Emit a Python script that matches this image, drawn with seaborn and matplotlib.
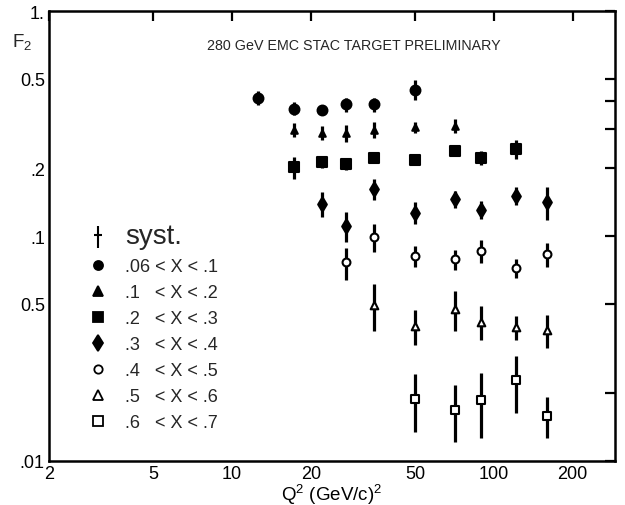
import matplotlib
matplotlib.use("Agg")
import matplotlib.pyplot as plt
import seaborn as sns
import pandas as pd
from matplotlib.path import Path
from matplotlib.lines import Line2D
from matplotlib.ticker import FixedLocator, NullFormatter

sns.set_theme(style="white")
plt.rcParams['font.family'] = ['Liberation Sans', 'DejaVu Sans']
plt.rcParams['mathtext.fontset'] = 'custom'
plt.rcParams['mathtext.rm'] = 'Liberation Sans'
plt.rcParams['mathtext.it'] = 'Liberation Sans'

# ---- data ----
labels = [".06 < X < .1", ".1   < X < .2", ".2   < X < .3", ".3   < X < .4",
          ".4   < X < .5", ".5   < X < .6", ".6   < X < .7"]

q2_s1 = [12.6, 17.3, 22.1, 27.3, 34.7, 49.8]
f2_s1 = [0.411, 0.369, 0.364, 0.385, 0.385, 0.447]
er_s1 = [0.030, 0.025, 0.015, 0.028, 0.028, 0.045]

q2_s2 = [17.3, 22.1, 27.3, 34.7, 49.8, 70.8]
f2_s2 = [0.297, 0.287, 0.287, 0.297, 0.304, 0.309]
er_s2 = [0.021, 0.020, 0.024, 0.025, 0.018, 0.023]

q2_s3 = [17.3, 22.1, 27.3, 34.7, 49.8, 70.8, 89.0, 121.0]
f2_s3 = [0.202, 0.213, 0.209, 0.222, 0.218, 0.238, 0.223, 0.243]
er_s3 = [0.023, 0.013, 0.013, 0.009, 0.009, 0.012, 0.017, 0.023]

q2_s4 = [22.1, 27.3, 34.7, 49.8, 70.8, 89.0, 121.0, 159.0]
f2_s4 = [0.139, 0.111, 0.162, 0.127, 0.146, 0.131, 0.151, 0.142]
er_s4 = [0.018, 0.0165, 0.0174, 0.014, 0.0134, 0.012, 0.014, 0.024]

q2_s5 = [27.3, 34.7, 49.8, 70.8, 89.0, 121.0, 159.0]
f2_s5 = [0.0764, 0.0987, 0.0812, 0.079, 0.0861, 0.0719, 0.0832]
er_s5 = [0.0125, 0.014, 0.0087, 0.008, 0.0103, 0.0071, 0.010]

q2_s6 = [34.7, 49.8, 70.8, 89.0, 121.0, 159.0]
f2_s6 = [0.0494, 0.0399, 0.0474, 0.0416, 0.0393, 0.0382]
er_s6 = [0.0117, 0.0071, 0.0097, 0.0072, 0.0048, 0.0063]

q2_s7 = [49.8, 70.8, 89.0, 121.0, 159.0]
f2_s7 = [0.0189, 0.0169, 0.0186, 0.0228, 0.0159]
er_s7 = [0.0055, 0.0048, 0.0060, 0.0065, 0.0033]

x_ticks = [2, 5, 10, 20, 50, 100, 200]
x_ticklabels = ["2", "5", "10", "20", "50", "100", "200"]
y_ticks = [0.01, 0.05, 0.1, 0.2, 0.5, 1.0]
y_ticklabels = [".01", "0.5", ".1", ".2", "0.5", "1."]
y_minor = [0.02, 0.3, 0.4]

series = [
    (q2_s1, f2_s1, er_s1), (q2_s2, f2_s2, er_s2), (q2_s3, f2_s3, er_s3),
    (q2_s4, f2_s4, er_s4), (q2_s5, f2_s5, er_s5), (q2_s6, f2_s6, er_s6),
    (q2_s7, f2_s7, er_s7),
]
markers = ['o', '^', 's', 'd', 'o', '^', 's']
filled = [True, True, True, True, False, False, False]
msizes = [50, 22, 42, 54, 32, 30, 36]

fig = plt.figure(figsize=(6.25, 5.06), dpi=100)
ax = fig.add_axes([0.0784, 0.087, 0.9056, 0.889])
ax.set_xscale('log')
ax.set_yscale('log')

for (q, f, e), m, fl, s, lab in zip(series, markers, filled, msizes, labels):
    ax.errorbar(q, f, yerr=e, fmt='none', ecolor='black', elinewidth=2.3,
                capsize=0, zorder=2)
    df = pd.DataFrame({"Q2": q, "F2": f})
    sns.scatterplot(data=df, x="Q2", y="F2", marker=m, s=s,
                    color='black' if fl else 'white', edgecolor='black',
                    linewidth=1.5, ax=ax, zorder=3, legend=False)

ax.set_xlim(2, 290)
ax.set_ylim(0.01, 1.0)

ax.xaxis.set_major_locator(FixedLocator(x_ticks))
ax.set_xticklabels(x_ticklabels)
ax.xaxis.set_minor_formatter(NullFormatter())
ax.xaxis.set_minor_locator(FixedLocator([]))
ax.yaxis.set_major_locator(FixedLocator(y_ticks))
ax.set_yticklabels(y_ticklabels)
ax.yaxis.set_minor_locator(FixedLocator(y_minor))
ax.yaxis.set_minor_formatter(NullFormatter())

ax.tick_params(which='both', direction='in', top=True, right=True,
               length=7, width=1.6, colors='black', labelsize=13, pad=3)
for sp in ax.spines.values():
    sp.set_color('black')
    sp.set_linewidth(1.8)

ax.set_xlabel(r"Q$^2$ (GeV/c)$^2$", fontsize=13.5, labelpad=0, color='black')
ax.set_ylabel("")
fig.text(22 / 625, 1 - 42 / 506, r"F$_2$", fontsize=13.5, ha='center', va='center')
fig.text(354 / 625, 1 - 46 / 506, "280 GeV EMC STAC TARGET PRELIMINARY",
         fontsize=10.3, ha='center', va='center')

# legend
syst_path = Path([(0, -1), (0, 1), (-0.35, 0.15), (0.35, 0.15)],
                 [Path.MOVETO, Path.LINETO, Path.MOVETO, Path.LINETO])
handles = [Line2D([], [], marker=syst_path, markersize=16, markeredgewidth=1.5,
                  color='black', linestyle='none')]
leg_sizes = [6.5, 6.5, 6.5, 8, 6, 6.5, 6.5]
for m, fl, ms in zip(markers, filled, leg_sizes):
    handles.append(Line2D([], [], marker=m, markersize=ms, linestyle='none',
                          markerfacecolor='black' if fl else 'white',
                          markeredgecolor='black', markeredgewidth=1.3))
leg = ax.legend(handles, ["syst."] + labels, loc='upper left',
                bbox_to_anchor=(80 / 625, 1 - 217 / 506),
                bbox_transform=fig.transFigure, frameon=False, fontsize=13,
                labelspacing=0.5, handletextpad=0.9, handlelength=1.2,
                borderaxespad=0)
leg.get_texts()[0].set_fontsize(20)

fig.savefig("out.png", dpi=100)
